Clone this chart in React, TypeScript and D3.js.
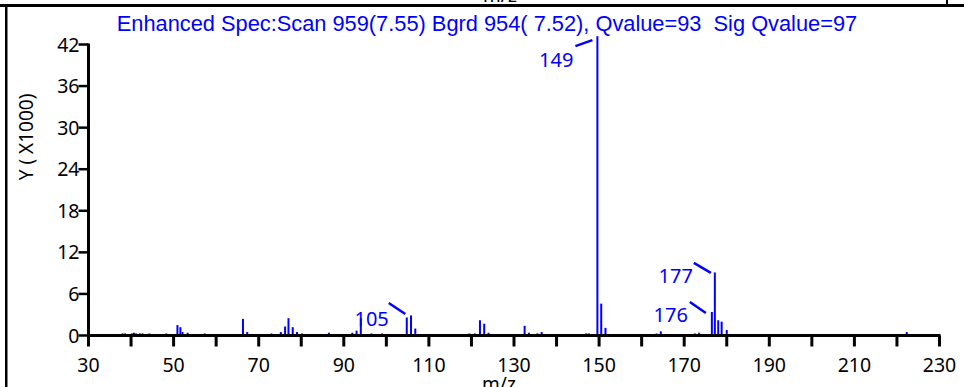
import * as d3 from 'd3'
import { useEffect, useRef } from 'react'

// spectrum (m/z, abundance in thousands)
const mzValues = [
  38.0, 38.6, 40.2, 40.7, 41.2, 42.1, 42.7, 44.3, 46.3, 48.3, 50.9, 51.6, 52.1, 53.3, 57.3,
  66.3, 67.3, 71.8, 73.0, 75.2, 76.2, 77.0, 78.0, 79.0, 80.2, 86.5, 92.0, 93.0, 94.0, 96.5,
  99.0, 104.8, 105.8, 106.8, 119.5, 120.8, 122.0, 123.0, 124.0, 132.5, 133.5, 135.5, 136.5,
  147.0, 147.6, 149.6, 150.5, 151.5, 163.5, 164.5, 172.5, 173.5, 176.5, 177.2, 178.0, 178.8,
  180.0, 222.3,
]
const abundance = [
  0.3, 0.3, 0.3, 0.4, 0.3, 0.3, 0.3, 0.3, 0.2, 0.3, 1.5, 1.2, 0.5, 0.4, 0.3,
  2.4, 0.5, 0.2, 0.3, 0.5, 1.3, 2.5, 1.2, 0.5, 0.3, 0.4, 0.4, 0.7, 2.5, 0.3,
  0.3, 2.6, 2.9, 1.0, 0.3, 0.3, 2.2, 1.7, 0.4, 1.4, 0.4, 0.3, 0.5,
  0.3, 0.3, 43.2, 4.6, 1.1, 0.3, 0.6, 0.3, 0.4, 3.4, 9.1, 2.2, 2.0,
  0.8, 0.5,
]

// annotated peaks
const peakLabels = ['149', '105', '177', '176']
const peakMz = [149.6, 104.8, 177.2, 176.5]
const peakAbund = [43.2, 2.6, 9.1, 3.4]

const xTicks = d3.range(30, 231, 10)
const xLabels = d3.range(30, 231, 20)
const yTicks = [0, 6, 12, 18, 24, 30, 36, 42]

const title = 'Enhanced Spec:Scan 959(7.55) Bgrd 954( 7.52), Qvalue=93  Sig Qvalue=97'

export default function App() {
  const svgRef = useRef<SVGSVGElement>(null)

  useEffect(() => {
    const svg = d3.select(svgRef.current)
    svg.selectAll('*').remove()

    const left = 88.5
    const right = 939.5
    const bottom = 335.5
    const x = d3.scaleLinear().domain([30, 230]).range([left, right])
    const y = d3.scaleLinear().domain([0, 42]).range([bottom, 44.5])

    const blue = '#0000ff'
    const labelFont = "'Noto Sans', sans-serif"

    // frame pieces from the neighbouring panel
    svg.append('rect').attr('x', 0).attr('y', 4).attr('width', 964).attr('height', 3).attr('fill', '#000')
    svg.append('rect').attr('x', 5).attr('y', 4).attr('width', 2.5).attr('height', 383).attr('fill', '#000')
    svg.append('rect').attr('x', 946).attr('y', 0).attr('width', 2).attr('height', 7).attr('fill', '#000')
    svg.append('text').attr('x', 500).attr('y', 2).attr('text-anchor', 'middle')
      .attr('font-family', labelFont).attr('font-size', 19).text('m/z')

    // title
    svg.append('text')
      .attr('x', 487).attr('y', 31).attr('text-anchor', 'middle')
      .attr('font-family', "'Liberation Sans', Arial, sans-serif").attr('font-size', 21.8)
      .attr('fill', blue).style('white-space', 'pre')
      .text(title)

    // bars
    svg.append('g')
      .selectAll('rect')
      .data(mzValues)
      .enter()
      .append('rect')
      .attr('x', (d) => x(d) - 1)
      .attr('y', (_, i) => y(abundance[i]))
      .attr('width', 2)
      .attr('height', (_, i) => bottom - 1 - y(abundance[i]))
      .attr('fill', blue)

    // x axis
    const xAxis = svg.append('g').attr('transform', `translate(0,${bottom})`)
    xAxis.append('line').attr('x1', left - 1).attr('x2', right + 1).attr('stroke', '#000').attr('stroke-width', 3)
    xAxis.selectAll('.tick').data(xTicks).enter().append('line')
      .attr('x1', (d) => x(d)).attr('x2', (d) => x(d)).attr('y1', 0).attr('y2', 11)
      .attr('stroke', '#000').attr('stroke-width', 3)
    xAxis.selectAll('.lab').data(xLabels).enter().append('text')
      .attr('x', (d) => x(d)).attr('y', 36).attr('text-anchor', 'middle')
      .attr('font-family', labelFont).attr('font-size', 19.5).text((d) => d)
    svg.append('text').attr('x', 499).attr('y', 391).attr('text-anchor', 'middle')
      .attr('font-family', labelFont).attr('font-size', 19).text('m/z')

    // y axis
    const yAxis = svg.append('g').attr('transform', `translate(${left},0)`)
    yAxis.append('line').attr('y1', y(42) - 1).attr('y2', bottom + 1).attr('stroke', '#000').attr('stroke-width', 3)
    yAxis.selectAll('.tick').data(yTicks).enter().append('line')
      .attr('x1', -10).attr('x2', 0).attr('y1', (d) => y(d)).attr('y2', (d) => y(d))
      .attr('stroke', '#000').attr('stroke-width', 2.5)
    yAxis.selectAll('.lab').data(yTicks).enter().append('text')
      .attr('x', -9).attr('y', (d) => y(d) + 7).attr('text-anchor', 'end')
      .attr('font-family', labelFont).attr('font-size', 19.5).text((d) => d)
    svg.append('text')
      .attr('transform', 'translate(33,137) rotate(-90)')
      .attr('text-anchor', 'middle').attr('font-family', labelFont).attr('font-size', 19)
      .style('white-space', 'pre')
      .text('Y ( X1000)')

    // peak annotations with leader lines
    const labelDx = [-24, -18, -22, -24]
    const labelDy = [31, 8.5, 10.5, 10]
    const leader = [
      [-22, 10, -5, 4],
      [-18, -14.5, -1.5, -3.5],
      [-21, -9.5, -4, 0.5],
      [-22, -10, -6, 1],
    ]
    peakLabels.forEach((lab, i) => {
      const px = x(peakMz[i])
      const py = y(peakAbund[i])
      const l = leader[i]
      svg.append('line')
        .attr('x1', px + l[0]).attr('y1', py + l[1]).attr('x2', px + l[2]).attr('y2', py + l[3])
        .attr('stroke', blue).attr('stroke-width', 2.5)
      svg.append('text')
        .attr('x', px + labelDx[i]).attr('y', py + labelDy[i]).attr('text-anchor', 'end')
        .attr('font-family', labelFont).attr('font-size', 20).attr('fill', blue)
        .text(lab)
    })
  }, [])

  return (
    <svg
      ref={svgRef}
      width={964}
      height={387}
      style={{ position: 'absolute', left: 0, top: 0, background: '#fff' }}
    />
  )
}
